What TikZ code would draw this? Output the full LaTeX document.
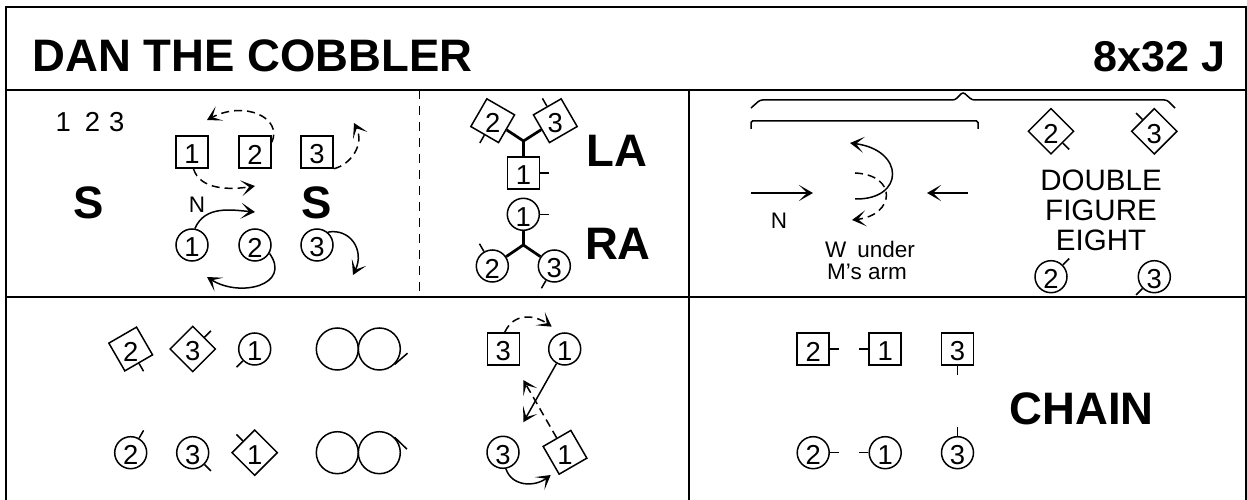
\documentclass[tikz,border=0pt]{standalone}
\usepackage{fontspec}
\setmainfont{Liberation Sans}
\usetikzlibrary{arrows.meta}
\tikzset{
  man/.style={draw,rectangle,minimum size=6.4mm,inner sep=0pt,line width=0.3mm},
  woman/.style={draw,circle,minimum size=6.4mm,inner sep=0pt,line width=0.3mm},
  loopring/.style={draw,circle,minimum size=8.4mm,inner sep=0pt,line width=0.3mm},
  num/.style={inner sep=0pt,yshift=-0.5mm,font=\fontsize{15.6}{18}\selectfont},
  nub/.style={line width=0.3mm},
  arm/.style={line width=0.55mm},
  rule/.style={line width=0.4mm},
  walk/.style={line width=0.3mm,-{Stealth[length=2.8mm,width=3.2mm,inset=1.6mm]}},
  walkd/.style={walk,dash pattern=on 1.6mm off 1mm},
  bigword/.style={inner sep=0pt,font=\fontsize{25.9}{28}\bfseries\selectfont},
  smallword/.style={inner sep=0pt,anchor=base,font=\fontsize{12.8}{15}\selectfont},
  midword/.style={inner sep=0pt,anchor=base,font=\fontsize{16.8}{19}\selectfont},
}
\begin{document}
\begin{tikzpicture}[x=0.2mm,y=0.2mm]
\useasboundingbox (0,0) rectangle (1247,500);

% frame
\draw[rule] (6,-5) rectangle (1246,493);
\draw[rule] (6,410) -- (1246,410);
\draw[rule] (6,203) -- (1246,203);
\draw[rule] (689,410) -- (689,-5);
\draw[line width=0.3mm,dash pattern=on 1.9mm off 1.3mm] (419.5,410) -- (419.5,203);

% title
\node[bigword,anchor=base west] (title) at (32,428.3) {DAN THE COBBLER};
\node[bigword,anchor=base east,font=\fontsize{24.5}{28}\bfseries\selectfont] (tempo) at (1226,428.3) {8x32 J};

% set and turn
\node[inner sep=0pt,font=\fontsize{15.6}{18}\selectfont] (order) at (90,377.5) {1\hspace{2.8mm}2\hspace{1.8mm}3};
\node[bigword] (sa) at (89,297) {S};
\node[bigword] (sb) at (317,297) {S};

\node[man] (am1) at (192,348) {};
\node[num] (am1n) at (am1) {1};
\node[man] (am2) at (255,348) {};
\node[num] (am2n) at (am2) {2};
\node[man] (am3) at (317,348) {};
\node[num] (am3n) at (am3) {3};
\node[woman] (aw1) at (192,255) {};
\node[num] (aw1n) at (aw1) {1};
\node[woman] (aw2) at (255,255) {};
\node[num] (aw2n) at (aw2) {2};
\node[woman] (aw3) at (317,255) {};
\node[num] (aw3n) at (aw3) {3};
\node[inner sep=0pt,font=\fontsize{12.8}{15}\selectfont] (an) at (197,295) {N};

\coordinate (tipa) at (207,380);
\coordinate (tipb) at (354,377);
\coordinate (tipc) at (255,314);
\coordinate (tipd) at (255,288);
\coordinate (tipe) at (207,223);
\coordinate (tipf) at (353,225);
\draw[walkd] (am2.30) .. controls (283,382) and (245,400) .. (tipa);
\draw[walkd] (am3.-45) .. controls (350,335) and (365,355) .. (tipb);
\draw[walkd] (am1.-85) .. controls (200,310) and (230,310) .. (tipc);
\draw[walk] (aw1.80) .. controls (205,295) and (232,290) .. (tipd);
\draw[walk] (aw2.-30) .. controls (292,215) and (240,202) .. (tipe);
\draw[walk] (aw3.50) .. controls (350,272) and (365,250) .. (tipf);

% hands across
\node[man] (bm1) at (523.5,327) {};
\node[num] (bm1n) at (bm1) {1};
\node[man,rotate=-30] (bm2) at (492.7,379.3) {};
\node[num] (bm2n) at (bm2) {2};
\node[man,rotate=30] (bm3) at (555.3,379.3) {};
\node[num] (bm3n) at (bm3) {3};
\coordinate (bjoin) at (523.5,359);
\draw[arm] (bm1) -- (bjoin);
\draw[arm] (bm2) -- (bjoin);
\draw[arm] (bm3) -- (bjoin);
\draw[nub] (bm1.east) -- ++(0:9);
\draw[nub] (bm2.south) -- ++(-120:9);
\draw[nub] (bm3.north) -- ++(120:9);
\node[bigword] (la) at (617,349) {LA};

\node[woman] (bw1) at (523.3,285.7) {};
\node[num] (bw1n) at (bw1) {1};
\node[woman] (bw2) at (492.3,234) {};
\node[num] (bw2n) at (bw2) {2};
\node[woman] (bw3) at (554.3,234) {};
\node[num] (bw3n) at (bw3) {3};
\coordinate (wjoin) at (523.3,255);
\draw[arm] (bw1) -- (wjoin);
\draw[arm] (bw2) -- (wjoin);
\draw[arm] (bw3) -- (wjoin);
\draw[nub] (bw1.east) -- ++(0:9);
\draw[nub] (bw2.120) -- ++(120:9);
\draw[nub] (bw3.-120) -- ++(-120:9);
\node[bigword] (ra) at (618,256) {RA};

% turn under the arm, double figure of eight
\draw[line width=0.3mm,rounded corners=0.5mm] (751,392) -- (760,400) -- (955,400) -- (963,408) -- (972,400) -- (1167,400) -- (1175,392);
\draw[line width=0.3mm,rounded corners=0.3mm] (751,371) -- (751,379) -- (978,379) -- (978,371);

\coordinate (ca) at (751,307);
\coordinate (cb) at (813,307);
\coordinate (cc) at (968,307);
\coordinate (cd) at (927,307);
\coordinate (ce) at (855,301);
\coordinate (cf) at (850,357);
\coordinate (cg) at (855,327);
\coordinate (ch) at (852,280);
\draw[walk] (ca) -- (cb);
\draw[walk] (cc) -- (cd);
\draw[walk] (ce) .. controls (905,300) and (905,350) .. (cf);
\draw[walkd] (cg) .. controls (898,325) and (895,285) .. (ch);
\node[inner sep=0pt,font=\fontsize{12.8}{15}\selectfont] (cn) at (779,279) {N};
\node[smallword] (cunder) at (870,242) {W\hspace{2.2mm}under};
\node[smallword] (carm) at (867,220) {M's arm};

\node[man,rotate=45] (dm2) at (1051,368.7) {};
\node[num] (dm2n) at (dm2) {2};
\node[man,rotate=45] (dm3) at (1154.3,368.7) {};
\node[num] (dm3n) at (dm3) {3};
\node[woman] (dw2) at (1051,223.3) {};
\node[num] (dw2n) at (dw2) {2};
\node[woman] (dw3) at (1154.3,223.3) {};
\node[num] (dw3n) at (dw3) {3};
\draw[nub] (dm2.south) -- ++(-45:9);
\draw[nub] (dm3.north) -- ++(135:9);
\draw[nub] (dw2.45) -- ++(45:9);
\draw[nub] (dw3.225) -- ++(225:9);
\node[midword] (dbl) at (1101,309.3) {DOUBLE};
\node[midword] (fig) at (1101,279) {FIGURE};
\node[midword] (eig) at (1101,249.3) {EIGHT};

% bottom left
\node[man,rotate=30] (em2) at (130.7,151) {};
\node[num] (em2n) at (em2) {2};
\node[man,rotate=45] (em3) at (192.7,151) {};
\node[num] (em3n) at (em3) {3};
\node[woman] (ew1) at (254.7,151) {};
\node[num] (ew1n) at (ew1) {1};
\draw[nub] (em2.south) -- ++(-60:9);
\draw[nub] (em3.east) -- ++(45:9);
\draw[nub] (ew1.225) -- ++(225:9);

\node[woman] (fw2) at (130.7,47.3) {};
\node[num] (fw2n) at (fw2) {2};
\node[woman] (fw3) at (192.7,47.3) {};
\node[num] (fw3n) at (fw3) {3};
\node[man,rotate=45] (fm1) at (254.7,47.3) {};
\node[num] (fm1n) at (fm1) {1};
\draw[nub] (fw2.60) -- ++(60:9);
\draw[nub] (fw3.-45) -- ++(-45:9);
\draw[nub] (fm1.north) -- ++(135:9);

\node[loopring] (loopa) at (337.3,151) {};
\node[loopring] (loopb) at (379.3,151) {};
\draw[nub] (loopb.-45) -- ++(41:17);
\node[loopring] (loopc) at (337.3,47.3) {};
\node[loopring] (loopd) at (379.3,47.3) {};
\draw[nub] (loopd.45) -- ++(-44:17);

% middle bottom
\node[man] (gm3) at (503.3,151) {};
\node[num] (gm3n) at (gm3) {3};
\node[woman] (gw1) at (564.7,151) {};
\node[num] (gw1n) at (gw1) {1};
\node[woman] (gw3) at (503,47.7) {};
\node[num] (gw3n) at (gw3) {3};
\node[man,rotate=30] (gm1) at (565,47.7) {};
\node[num] (gm1n) at (gm1) {1};
\coordinate (gtipa) at (551.7,173.3);
\coordinate (gtipb) at (523.3,77.7);
\coordinate (gtipc) at (523.3,120);
\coordinate (gtipd) at (550.7,25);
\draw[walkd] (gm3.85) .. controls (514,188) and (535,185) .. (gtipa);
\draw[walk] (gw1) -- (gtipb);
\draw[walkd] (gm1) -- (gtipc);
\draw[walk] (gw3.-80) .. controls (512,13) and (535,13) .. (gtipd);

% chain
\node[man] (hm2) at (813.2,151) {};
\node[num] (hm2n) at (hm2) {2};
\node[man] (hm1) at (885.2,151) {};
\node[num] (hm1n) at (hm1) {1};
\node[man] (hm3) at (957.5,151) {};
\node[num] (hm3n) at (hm3) {3};
\node[woman] (hw2) at (813.2,47.3) {};
\node[num] (hw2n) at (hw2) {2};
\node[woman] (hw1) at (885.2,47.3) {};
\node[num] (hw1n) at (hw1) {1};
\node[woman] (hw3) at (957.5,47.3) {};
\node[num] (hw3n) at (hw3) {3};
\draw[nub] (hm2.east) -- ++(0:9);
\draw[nub] (hm1.west) -- ++(180:9);
\draw[nub] (hm3.south) -- ++(-90:9);
\draw[nub] (hw2.east) -- ++(0:9);
\draw[nub] (hw1.west) -- ++(180:9);
\draw[nub] (hw3.north) -- ++(90:9);
\node[bigword] (chain) at (1081.5,91) {CHAIN};

\end{tikzpicture}
\end{document}
